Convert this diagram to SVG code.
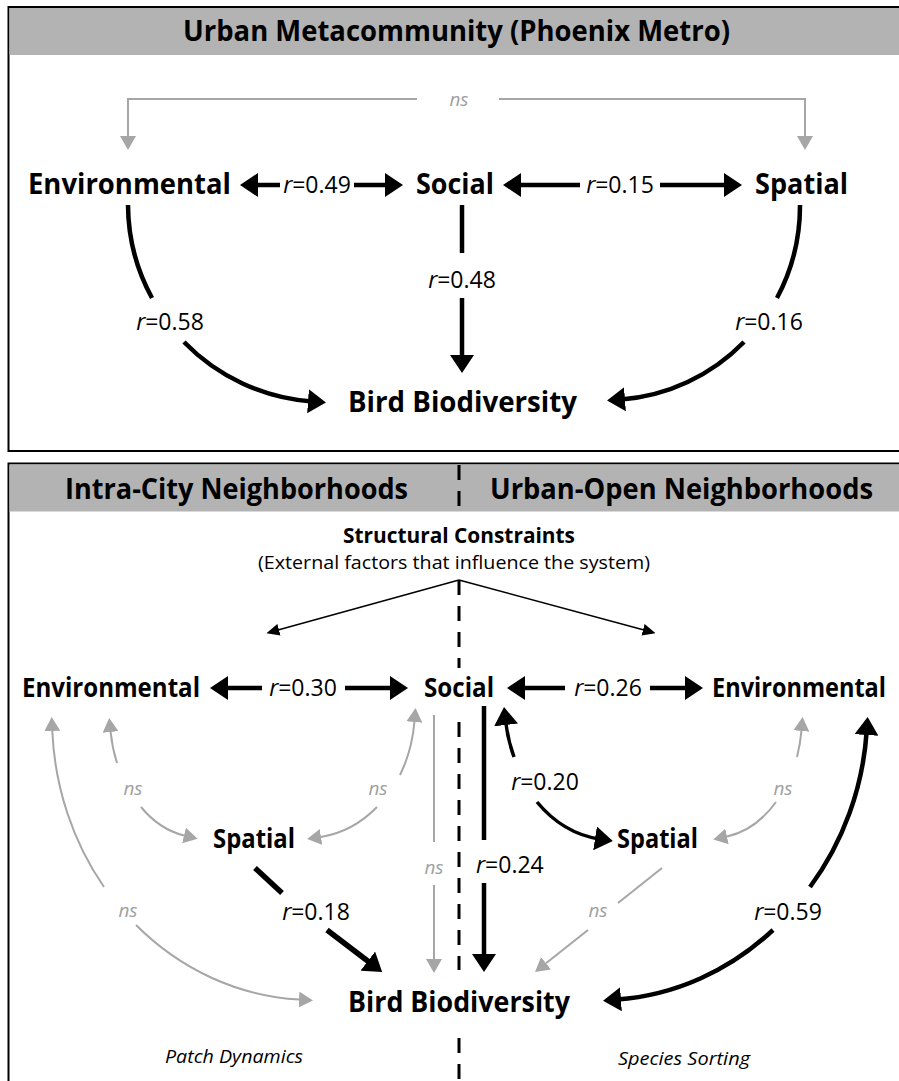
<svg xmlns="http://www.w3.org/2000/svg" width="899" height="1081" viewBox="0 0 899 1081">
<style>
text{font-family:"Open Sans","Noto Sans","Liberation Sans",sans-serif;fill:#000}
.hdr{font-size:29px;font-weight:bold}
.node{font-size:29px;font-weight:bold}
.node2{font-size:26px;font-weight:bold}
.lbl{font-size:23px}
.ns{font-size:19px;font-style:italic;fill:#a0a0a0}
.it{font-style:italic}
.blk{fill:none;stroke:#000;stroke-width:4.5}
.gry{fill:none;stroke:#a6a6a6;stroke-width:2}
.thin{fill:none;stroke:#000;stroke-width:1.5}
.dash{fill:none;stroke:#000;stroke-width:3;stroke-dasharray:15 11}
</style>
<defs>
<marker id="ab" viewBox="0 0 18 24" refX="4" refY="12" markerWidth="18" markerHeight="24" markerUnits="userSpaceOnUse" orient="auto"><path d="M0,0 L18,12 L0,24 z" fill="#000"/></marker>
<marker id="ag" viewBox="0 0 14 16" refX="0" refY="8" markerWidth="14" markerHeight="16" markerUnits="userSpaceOnUse" orient="auto"><path d="M0,0 L14,8 L0,16 z" fill="#a6a6a6"/></marker>
<marker id="at" viewBox="0 0 13 12" refX="1" refY="6" markerWidth="13" markerHeight="12" markerUnits="userSpaceOnUse" orient="auto"><path d="M0,0 L13,6 L0,12 z" fill="#000"/></marker>
</defs>

<!-- Panels -->
<g id="panel-top">
<rect x="8.5" y="7" width="905" height="444" fill="#fff" stroke="#000" stroke-width="2"/>
<rect x="9.5" y="8" width="900" height="47" fill="#b3b3b3"/>
<text class="hdr" x="183" y="41" textLength="547" lengthAdjust="spacingAndGlyphs">Urban Metacommunity (Phoenix Metro)</text>
</g>
<g id="panel-bottom">
<rect x="8.5" y="463.5" width="905" height="700" fill="#fff" stroke="#000" stroke-width="2"/>
<rect x="9.5" y="464.5" width="900" height="47" fill="#b3b3b3"/>
<text class="hdr" x="65" y="499" textLength="343" lengthAdjust="spacingAndGlyphs">Intra-City Neighborhoods</text>
<text class="hdr" x="490" y="499" textLength="383" lengthAdjust="spacingAndGlyphs">Urban-Open Neighborhoods</text>
</g>

<!-- Connectors -->
<g id="connectors">
<!-- top panel -->
<path class="gry" d="M417,99 H128 V136" marker-end="url(#ag)"/>
<path class="gry" d="M499,99 H805 V136" marker-end="url(#ag)"/>
<text class="ns" x="459" y="106" text-anchor="middle">ns</text>

<path class="blk" d="M280,185 H254" marker-end="url(#ab)"/>
<path class="blk" d="M354,185 H389" marker-end="url(#ab)"/>
<text class="lbl" x="317" y="193" text-anchor="middle"><tspan class="it">r</tspan>=0.49</text>

<path class="blk" d="M580,185 H517" marker-end="url(#ab)"/>
<path class="blk" d="M660,185 H728" marker-end="url(#ab)"/>
<text class="lbl" x="620" y="193" text-anchor="middle"><tspan class="it">r</tspan>=0.15</text>

<path class="blk" d="M462,205 V253"/>
<path class="blk" d="M462,298 V359" marker-end="url(#ab)"/>
<text class="lbl" x="462" y="288" text-anchor="middle"><tspan class="it">r</tspan>=0.48</text>

<path class="blk" d="M128,205 A198,197 0 0 0 152,298"/>
<path class="blk" d="M184,342 A198,197 0 0 0 312,401.5" marker-end="url(#ab)"/>
<text class="lbl" x="170" y="330" text-anchor="middle"><tspan class="it">r</tspan>=0.58</text>

<path class="blk" d="M800,205 A193,195 0 0 1 777,298"/>
<path class="blk" d="M744,342 A193,195 0 0 1 621,399.5" marker-end="url(#ab)"/>
<text class="lbl" x="769" y="330" text-anchor="middle"><tspan class="it">r</tspan>=0.16</text>

<!-- bottom panel divider -->
<path class="dash" d="M459,465 V510"/>
<path class="dash" d="M459,580 V668"/>
<path class="dash" d="M459,722 V970"/>
<path class="dash" d="M459,1038 V1081"/>

<!-- structural constraints arrows -->
<path class="thin" d="M459,580 L278,630" marker-end="url(#at)"/>
<path class="thin" d="M459,580 L644,630" marker-end="url(#at)"/>

<!-- bottom double arrows -->
<path class="blk" d="M262,688 H224" marker-end="url(#ab)"/>
<path class="blk" d="M345,688 H394" marker-end="url(#ab)"/>
<text class="lbl" x="303" y="696" text-anchor="middle"><tspan class="it">r</tspan>=0.30</text>

<path class="blk" d="M565,688 H521" marker-end="url(#ab)"/>
<path class="blk" d="M650,688 H689" marker-end="url(#ab)"/>
<text class="lbl" x="608" y="696" text-anchor="middle"><tspan class="it">r</tspan>=0.26</text>

<!-- left side gray -->
<path class="gry" d="M104,887 A261,283 0 0 1 52.3,731" marker-end="url(#ag)"/>
<path class="gry" d="M136,925 A261,283 0 0 0 299,999.6" marker-end="url(#ag)"/>
<text class="ns" x="128" y="917" text-anchor="middle">ns</text>

<path class="gry" d="M117,763 A88,119 0 0 1 110.6,732" marker-end="url(#ag)"/>
<path class="gry" d="M141,807 A88,119 0 0 0 184,835.5" marker-end="url(#ag)"/>
<text class="ns" x="133" y="795" text-anchor="middle">ns</text>

<path class="gry" d="M400,775 A108,130 0 0 0 414.4,722" marker-end="url(#ag)"/>
<path class="gry" d="M377,807 A108,130 0 0 1 321,836.9" marker-end="url(#ag)"/>
<text class="ns" x="378" y="795" text-anchor="middle">ns</text>

<path class="gry" d="M434,715 V842"/>
<path class="gry" d="M434,885 V959" marker-end="url(#ag)"/>
<text class="ns" x="434" y="874" text-anchor="middle">ns</text>

<path class="blk" style="stroke-width:5.5" d="M255,868 L282,893"/>
<path class="blk" style="stroke-width:5.5" d="M327,930 L371,963.5" marker-end="url(#ab)"/>
<text class="lbl" x="316" y="920" text-anchor="middle"><tspan class="it">r</tspan>=0.18</text>

<!-- right side -->
<path class="blk" d="M484,706 V840"/>
<path class="blk" d="M484,883 V958" marker-end="url(#ab)"/>
<text class="lbl" x="476" y="873"><tspan class="it">r</tspan>=0.24</text>

<path class="blk" style="stroke-width:3.5" d="M514,757 A108,133 0 0 1 505.6,721" marker-end="url(#ab)"/>
<path class="blk" style="stroke-width:3.5" d="M537,802 A108,133 0 0 0 599,838.9" marker-end="url(#ab)"/>
<text class="lbl" x="545" y="790" text-anchor="middle"><tspan class="it">r</tspan>=0.20</text>

<path class="gry" d="M797,757 A89,121 0 0 0 801.4,731" marker-end="url(#ag)"/>
<path class="gry" d="M776,802 A89,121 0 0 1 727,836.5" marker-end="url(#ag)"/>
<text class="ns" x="783" y="795" text-anchor="middle">ns</text>

<path class="gry" d="M662,868 L618,903"/>
<path class="gry" d="M588,930 L546,963.3" marker-end="url(#ag)"/>
<text class="ns" x="598" y="917" text-anchor="middle">ns</text>

<path class="blk" d="M810,887 A264,283 0 0 0 866.7,731" marker-end="url(#ab)"/>
<path class="blk" d="M773,930 A264,283 0 0 1 617,999.6" marker-end="url(#ab)"/>
<text class="lbl" x="788" y="920" text-anchor="middle"><tspan class="it">r</tspan>=0.59</text>
</g>

<!-- Nodes: top panel -->
<g id="top-environmental"><text class="node" x="28" y="194" textLength="203" lengthAdjust="spacingAndGlyphs">Environmental</text></g>
<g id="top-social"><text class="node" x="416" y="194" textLength="78" lengthAdjust="spacingAndGlyphs">Social</text></g>
<g id="top-spatial"><text class="node" x="755" y="194" textLength="93" lengthAdjust="spacingAndGlyphs">Spatial</text></g>
<g id="top-bird"><text class="node" x="348" y="412" textLength="229" lengthAdjust="spacingAndGlyphs">Bird Biodiversity</text></g>

<!-- Nodes: bottom panel -->
<g id="structural">
<text x="459" y="543" text-anchor="middle" style="font-size:22px;font-weight:bold" textLength="232" lengthAdjust="spacingAndGlyphs">Structural Constraints</text>
<text x="454" y="569" text-anchor="middle" style="font-size:19px" textLength="392" lengthAdjust="spacingAndGlyphs">(External factors that influence the system)</text>
</g>
<g id="bl-environmental"><text class="node2" x="22" y="697" textLength="178" lengthAdjust="spacingAndGlyphs">Environmental</text></g>
<g id="b-social"><text class="node2" x="424" y="697" textLength="70" lengthAdjust="spacingAndGlyphs">Social</text></g>
<g id="br-environmental"><text class="node2" x="712" y="697" textLength="174" lengthAdjust="spacingAndGlyphs">Environmental</text></g>
<g id="bl-spatial"><text class="node2" x="213" y="848" textLength="82" lengthAdjust="spacingAndGlyphs">Spatial</text></g>
<g id="br-spatial"><text class="node2" x="617" y="848" textLength="81" lengthAdjust="spacingAndGlyphs">Spatial</text></g>
<g id="b-bird"><text class="node" x="348" y="1012" textLength="222" lengthAdjust="spacingAndGlyphs">Bird Biodiversity</text></g>
<g id="patch"><text x="165" y="1063" style="font-size:19px;font-style:italic" textLength="138" lengthAdjust="spacingAndGlyphs">Patch Dynamics</text></g>
<g id="sorting"><text x="618" y="1065" style="font-size:19px;font-style:italic" textLength="132" lengthAdjust="spacingAndGlyphs">Species Sorting</text></g>
</svg>
